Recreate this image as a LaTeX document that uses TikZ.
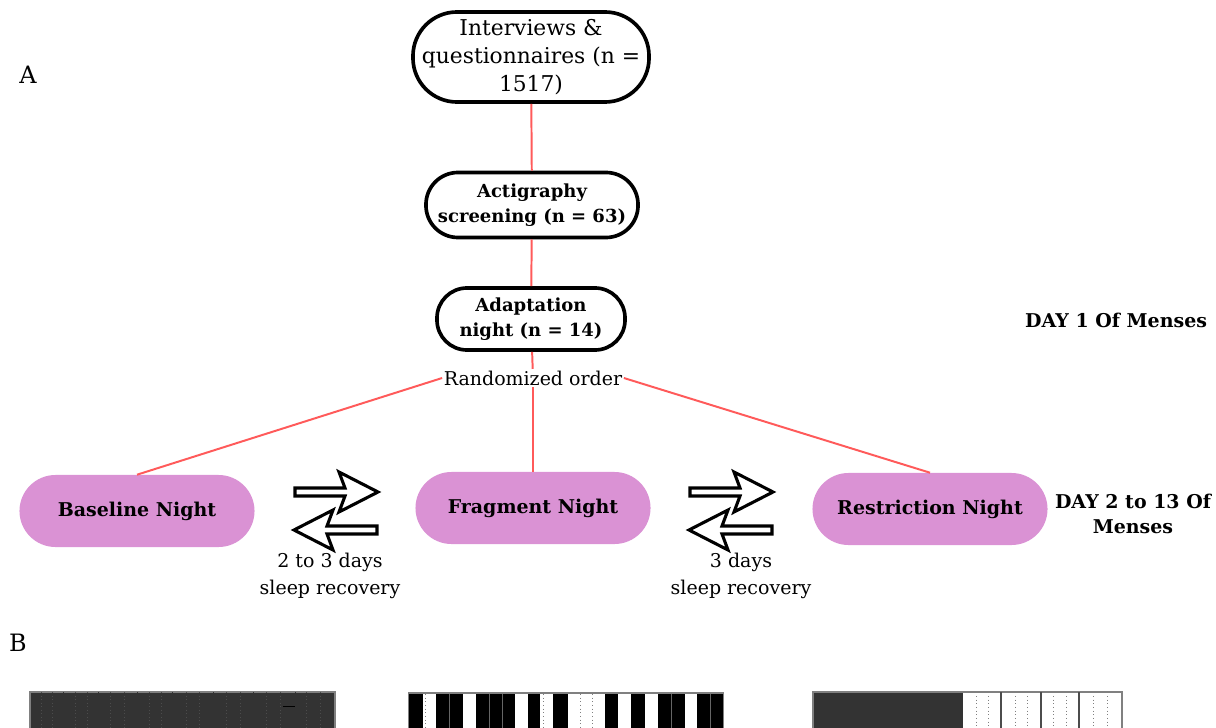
\documentclass[tikz,border=0pt]{standalone}
\usepackage{fontspec}
\setmainfont{DejaVu Serif}
\usepackage{tikz}
\definecolor{nightpink}{RGB}{218,146,212}
\definecolor{linkred}{RGB}{255,90,90}
\definecolor{bargray}{RGB}{51,51,51}
\tikzset{stage/.style = {draw, line width=2.6pt, rectangle, rounded corners=0.75cm,
                         align=center, inner sep=0pt},
         night/.style = {fill=nightpink, rectangle, rounded corners=0.9cm, inner sep=0pt,
                         minimum width=5.875cm, minimum height=1.8cm,
                         font=\bfseries\fontsize{13.5}{18}\selectfont},
         plain/.style = {font=\fontsize{13.5}{19.5}\selectfont, align=center},
         heavy/.style = {font=\bfseries\fontsize{13.5}{18}\selectfont, align=center},
         link/.style = {draw=linkred, line width=1.4pt},
         recarrow/.pic = {\draw [line width=2.2pt, fill=white, line join=miter]
                            (-41, -4) -- (9, -4) -- (3, -20) -- (42, 0) -- (3, 20)
                            -- (9, 4) -- (-41, 4) -- cycle;}}

\begin{document}
\begin{tikzpicture}[x=0.025cm, y=-0.025cm]
    \useasboundingbox (0, 0) rectangle (1216, 728);

    \node (labela) [plain, font=\fontsize{17}{20}\selectfont] at (28, 75) {A};
    \node (labelb) [plain, font=\fontsize{17}{20}\selectfont] at (18, 643) {B};

    \node (interviews) [stage, plain, font=\fontsize{15.5}{20}\selectfont, rounded corners=1.1cm,
                        minimum width=5.9cm, minimum height=2.25cm]
        at (531, 57) {Interviews \&\\questionnaires (n =\\1517)};
    \node (actigraphy) [stage, heavy, font=\bfseries\fontsize{12.8}{18}\selectfont, rounded corners=0.8cm,
                        minimum width=5.3cm, minimum height=1.625cm]
        at (532, 205) {Actigraphy\\screening (n = 63)};
    \node (adaptation) [stage, heavy, font=\bfseries\fontsize{12.8}{18}\selectfont,
                        minimum width=4.7cm, minimum height=1.55cm]
        at (531, 319) {Adaptation\\night (n = 14)};
    \node (random) [plain, inner sep=1pt] at (533, 378) {Randomized order};

    \node (baseline) [night] at (137, 511) {Baseline Night};
    \node (fragment) [night] at (533, 508) {Fragment Night};
    \node (restriction) [night] at (930, 509) {Restriction Night};

    \draw [link] (interviews) -- (actigraphy);
    \draw [link] (actigraphy) -- (adaptation);
    \draw [link] (adaptation) -- (random);
    \draw [link] (random.west) -- (baseline.north);
    \draw [link] (random) -- (fragment);
    \draw [link] (random.east) -- (restriction.north);

    \pic at (336, 492) {recarrow};
    \pic [xscale=-1] at (336, 530) {recarrow};
    \pic at (731, 492) {recarrow};
    \pic [xscale=-1] at (731, 530) {recarrow};

    \node (recovery1) [plain] at (330, 576) {2 to 3 days\\sleep recovery};
    \node (recovery2) [plain] at (741, 576) {3 days\\sleep recovery};

    \node (day1) [heavy, anchor = east] at (1212, 320) {DAY 1 Of Menses};
    \node (day2) [heavy] at (1133, 514) {DAY 2 to 13 Of\\Menses};

    \begin{scope}
        \clip (0, 0) rectangle (1216, 728);
        % baseline bar
        \fill [bargray] (30, 692) rectangle (335, 740);
        \draw [gray, line width=0.8pt] (30, 740) -- (30, 692) -- (335, 692) -- (335, 740);
        \foreach \x in {63, 98, 137, 172, 213, 253, 295}
            \draw [black!80, line width=0.6pt] (\x, 692) -- (\x, 740);
        \foreach \x in {41, 52, 75, 87, 110, 124, 149, 161, 186, 199, 226, 240, 266, 280, 306, 320}
            \draw [black!70, line width=0.5pt, dotted] (\x, 692) -- (\x, 740);
        \draw [black, line width=0.6pt] (283, 706) -- (295, 706);
        % fragment bar
        \draw [gray, line width=0.8pt] (409, 740) -- (409, 693) -- (723, 693) -- (723, 740);
        \foreach \a/\b in {409/423, 436/463, 476/515, 528/540, 553/568, 605/618, 631/645, 658/685, 697/723}
            \fill [black] (\a, 694) rectangle (\b, 740);
        \foreach \x in {449, 489, 502, 671, 710}
            \draw [black!60, line width=0.4pt] (\x, 694) -- (\x, 740);
        \foreach \x in {425, 543, 580, 592}
            \draw [gray, line width=0.6pt, dotted] (\x, 694) -- (\x, 740);
        % restriction bar
        \fill [bargray] (813, 692) rectangle (963, 740);
        \draw [gray, line width=0.8pt] (813, 740) -- (813, 692) -- (1122, 692) -- (1122, 740);
        \foreach \x in {1001, 1041, 1079}
            \draw [black!70, line width=0.8pt] (\x, 692) -- (\x, 740);
        \foreach \x in {976, 988, 1015, 1027, 1053, 1066, 1093, 1107}
            \draw [gray, line width=0.6pt, dotted] (\x, 696) -- (\x, 740);
    \end{scope}
\end{tikzpicture}
\end{document}
